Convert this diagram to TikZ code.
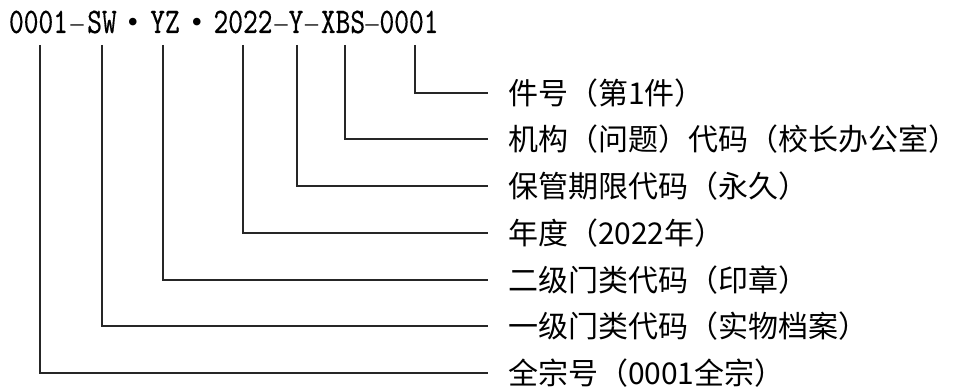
\documentclass[tikz,border=0pt]{standalone}
\usepackage{fontspec}
\newfontfamily\cjk{Noto Sans CJK SC}
\newfontfamily\codefont{lmmono10-regular.otf}[FakeStretch=0.78,FakeBold=0.35]
\newfontfamily\dotfont{Liberation Serif}
\begin{document}
\begin{tikzpicture}[x=1pt,y=1pt,
  lbl/.style={anchor=base west, inner sep=0pt, outer sep=0pt,
    text height=23pt, text depth=0pt, font=\cjk\fontsize{30}{36}\selectfont},
  seg/.style={anchor=base, inner sep=0pt, outer sep=0pt,
    font=\codefont\fontsize{36}{40}\selectfont},
  dotsep/.style={anchor=base, inner sep=0pt, outer sep=0pt,
    font=\dotfont\fontsize{31.5}{36}\selectfont},
  dashsep/.style={anchor=base, inner sep=0pt, outer sep=0pt,
    font=\dotfont\fontsize{26}{30}\selectfont, yshift=1.5pt},
  conn/.style={line width=1.7pt, draw=black!85}]
\useasboundingbox (0,0) rectangle (963,-390);
% code segments
\node[seg] (c7) at (38.5,-33) {0001};
\node[dashsep] (h1) at (77,-33) {–};
\node[seg] (c6) at (102,-33) {SW};
\node[dotsep] (b1) at (133,-33) {•};
\node[seg] (c5) at (165,-33) {YZ};
\node[dotsep] (b2) at (197,-33) {•};
\node[seg] (c4) at (243,-33) {2022};
\node[dashsep] (h2) at (281,-33) {–};
\node[seg] (c3) at (296,-33) {Y};
\node[dashsep] (h3) at (311.5,-33) {–};
\node[seg] (c2) at (343,-33) {XBS};
\node[dashsep] (h4) at (372,-33) {–};
\node[seg] (c1) at (409,-33) {0001};
% labels
\node[lbl] (l1) at (508,-104.5) {件号（第1件）};
\node[lbl] (l2) at (508,-150.5) {机构（问题）代码（校长办公室）};
\node[lbl] (l3) at (508,-197.5) {保管期限代码（永久）};
\node[lbl] (l4) at (508,-244.5) {年度（2022年）};
\node[lbl] (l5) at (508,-291.5) {二级门类代码（印章）};
\node[lbl] (l6) at (508,-337.5) {一级门类代码（实物档案）};
\node[lbl] (l7) at (508,-384.5) {全宗号（0001全宗）};
% connectors
\draw[conn] ([shift={(6pt,-12pt)}]c1.base) |- ([xshift=-20pt]l1.west);
\draw[conn] ([shift={(2pt,-12pt)}]c2.base) |- ([xshift=-20pt]l2.west);
\draw[conn] ([shift={(1pt,-12pt)}]c3.base) |- ([xshift=-20pt]l3.west);
\draw[conn] ([shift={(0pt,-12pt)}]c4.base) |- ([xshift=-20pt]l4.west);
\draw[conn] ([shift={(-2pt,-12pt)}]c5.base) |- ([xshift=-20pt]l5.west);
\draw[conn] ([shift={(0pt,-12pt)}]c6.base) |- ([xshift=-20pt]l6.west);
\draw[conn] ([shift={(1.5pt,-12pt)}]c7.base) |- ([xshift=-20pt]l7.west);
\end{tikzpicture}
\end{document}
